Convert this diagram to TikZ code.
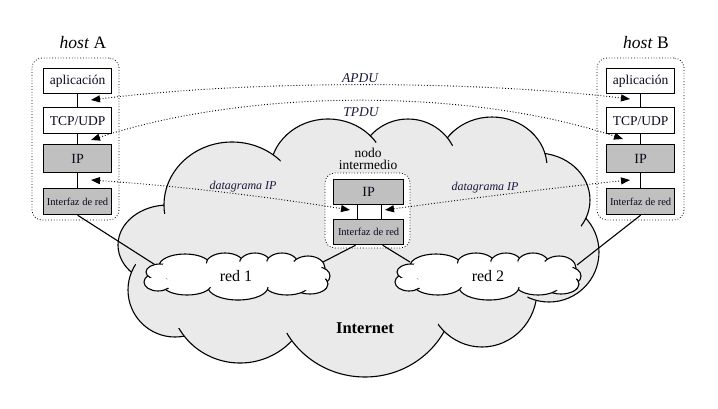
\documentclass[tikz,border=0pt]{standalone}
\usepackage{fontspec}
\setmainfont{Liberation Serif}
\usetikzlibrary{arrows.meta,calc}
\definecolor{cloudgray}{RGB}{234,234,234}
\definecolor{boxgray}{RGB}{192,192,192}
\definecolor{ink}{RGB}{25,25,60}
\definecolor{boxink}{RGB}{10,10,30}
\begin{document}
\begin{tikzpicture}[x=1pt,y=-1pt,
  lay/.style={draw, line width=1.2pt, inner sep=0pt, minimum width=68pt, anchor=north west, text=boxink, font=\fontsize{13.5}{15}\selectfont},
  grayl/.style={lay, fill=boxgray},
  ipl/.style={grayl, font=\fontsize{14}{15}\selectfont},
  ifl/.style={grayl, font=\fontsize{10.5}{12}\selectfont},
  frame/.style={draw, dotted, line width=0.8pt, rounded corners=10pt, inner sep=0pt},
  vline/.style={line width=1.2pt},
  netline/.style={line width=1.1pt},
  pdu/.style={dotted, line width=0.9pt, {Triangle[length=9pt,width=7pt]}-{Triangle[length=9pt,width=7pt]}},
  pdulabel/.style={text=ink, font=\fontsize{13.5}{15}\selectfont\itshape},
  dglabel/.style={text=ink, font=\fontsize{12}{14}\selectfont\itshape},
  cloudline/.style={line width=1.1pt}
]
\useasboundingbox (0,0) rectangle (718,408);

% ---------- Internet cloud ----------
\def\biglobes{168/245/50/40, 175/290/47/47, 240/295/70/68, 365/290/90/87, 482/290/55/57, 549/252/50/50, 537/200/53/47, 492/167/55/50, 408/168/50/49, 328/172/58/53, 232/205/68/63}
\foreach \cx/\cy/\rx/\ry in \biglobes {
  \draw[cloudline, fill=cloudgray] (\cx,\cy) ellipse [x radius=\rx, y radius=\ry];
}
\foreach \cx/\cy/\rx/\ry in \biglobes {
  \fill[cloudgray] (\cx,\cy) ellipse [x radius={\rx-9}, y radius={\ry-9}];
}
\fill[cloudgray] (360,240) ellipse [x radius=180, y radius=75];
\node[font=\fontsize{16.5}{18}\selectfont\bfseries] (inet) at (365,328) {Internet};

% ---------- host A ----------
\node[frame, minimum width=87pt, minimum height=162pt] (frA) at (75.5,139) {};
\node[font=\fontsize{17.5}{20}\selectfont] (hA) at (83,43) {\textit{host} A};
\node[lay, minimum height=25pt, fill=white] (apA) at (43,68) {aplicación};
\node[lay, minimum height=26pt, fill=white] (tcpA) at (43,107) {TCP/UDP};
\node[ipl, minimum height=28pt] (ipA) at (43,144) {IP};
\node[ifl, minimum height=26pt] (ifA) at (43,188) {Interfaz de red};
\draw[vline] (apA) -- (tcpA);
\draw[vline] (tcpA) -- (ipA);
\draw[vline] (ipA) -- (ifA);

% ---------- host B ----------
\node[frame, minimum width=87pt, minimum height=162pt] (frB) at (640.5,139) {};
\node[font=\fontsize{17.5}{20}\selectfont] (hB) at (646,43) {\textit{host} B};
\node[lay, minimum height=25pt, fill=white] (apB) at (606,68) {aplicación};
\node[lay, minimum height=26pt, fill=white] (tcpB) at (606,107) {TCP/UDP};
\node[ipl, minimum height=28pt] (ipB) at (606,144) {IP};
\node[ifl, minimum height=26pt] (ifB) at (606,188) {Interfaz de red};
\draw[vline] (apB) -- (tcpB);
\draw[vline] (tcpB) -- (ipB);
\draw[vline] (ipB) -- (ifB);

% ---------- intermediate node ----------
\node[frame, fill=white, minimum width=85pt, minimum height=75pt] (frM) at (367.5,210.5) {};
\node[align=center, font=\fontsize{13.5}{12.5}\selectfont] (nodo) at (368,159) {nodo\\intermedio};
\node[ipl, minimum width=70pt, minimum height=25pt] (ipM) at (333,179) {IP};
\node[ifl, minimum width=70pt, minimum height=25pt] (ifM) at (333,219) {Interfaz de red};
\draw[vline] ([xshift=-11pt]ipM.south) -- ([xshift=-11pt]ifM.north);
\draw[vline] ([xshift=13pt]ipM.south) -- ([xshift=13pt]ifM.north);

% ---------- links to networks ----------
\coordinate (r1w) at (157,266);
\coordinate (r1e) at (323,262);
\coordinate (r2w) at (410,262);
\coordinate (r2e) at (577,265);
\draw[netline] (ifA.south) -- (r1w);
\draw[netline] ([xshift=-13pt]ifM.south) -- (r1e);
\draw[netline] ([xshift=14pt]ifM.south) -- (r2w);
\draw[netline] (ifB.south) -- (r2e);

% ---------- small clouds ----------
\def\smalllobes{185/266/26/12, 225/264/19/11, 255/264/16/11, 282/264/16/11, 308/268/17/12, 318/276/12/9, 310/284/18/10, 287/285/22/10, 238/287/30/13, 187/285/24/10, 158/282/14/9, 160/272/14/8}
\foreach \dx in {0,251} {
  \begin{scope}[xshift=\dx pt]
  \foreach \cx/\cy/\rx/\ry in \smalllobes {
    \draw[cloudline, fill=white] (\cx,\cy) ellipse [x radius=\rx, y radius=\ry];
  }
  \foreach \cx/\cy/\rx/\ry in \smalllobes {
    \fill[white] (\cx,\cy) ellipse [x radius={\rx-3.5}, y radius={\ry-3.5}];
  }
  \fill[white] (237,276) ellipse [x radius=72, y radius=12];
  \end{scope}
}
\node[font=\fontsize{16}{18}\selectfont] (red1) at (236,276) {red 1};
\node[font=\fontsize{16}{18}\selectfont] (red2) at (488,276) {red 2};

% ---------- PDU arrows ----------
\coordinate (aA) at (91,100);
\coordinate (aB) at (630,99);
\coordinate (tA) at (91,140);
\coordinate (tB) at (623,139);
\coordinate (dA) at (91,180);
\coordinate (dB) at (630,180);
\coordinate (dM1) at (350,210);
\coordinate (dM2) at (385,210);
\draw[pdu] (aA) .. controls (250,80) and (470,80) .. (aB);
\draw[pdu] (tA) .. controls (250,88) and (470,88) .. (tB);
\draw[pdu] (dA) .. controls (180,186) and (270,197) .. (dM1);
\draw[pdu] (dM2) .. controls (465,199) and (560,187) .. (dB);
\node[pdulabel] (apdu) at (360,78) {APDU};
\node[pdulabel] (tpdu) at (361,112) {TPDU};
\node[dglabel] (dg1) at (243,187) {datagrama IP};
\node[dglabel] (dg2) at (485,188) {datagrama IP};
\end{tikzpicture}
\end{document}
